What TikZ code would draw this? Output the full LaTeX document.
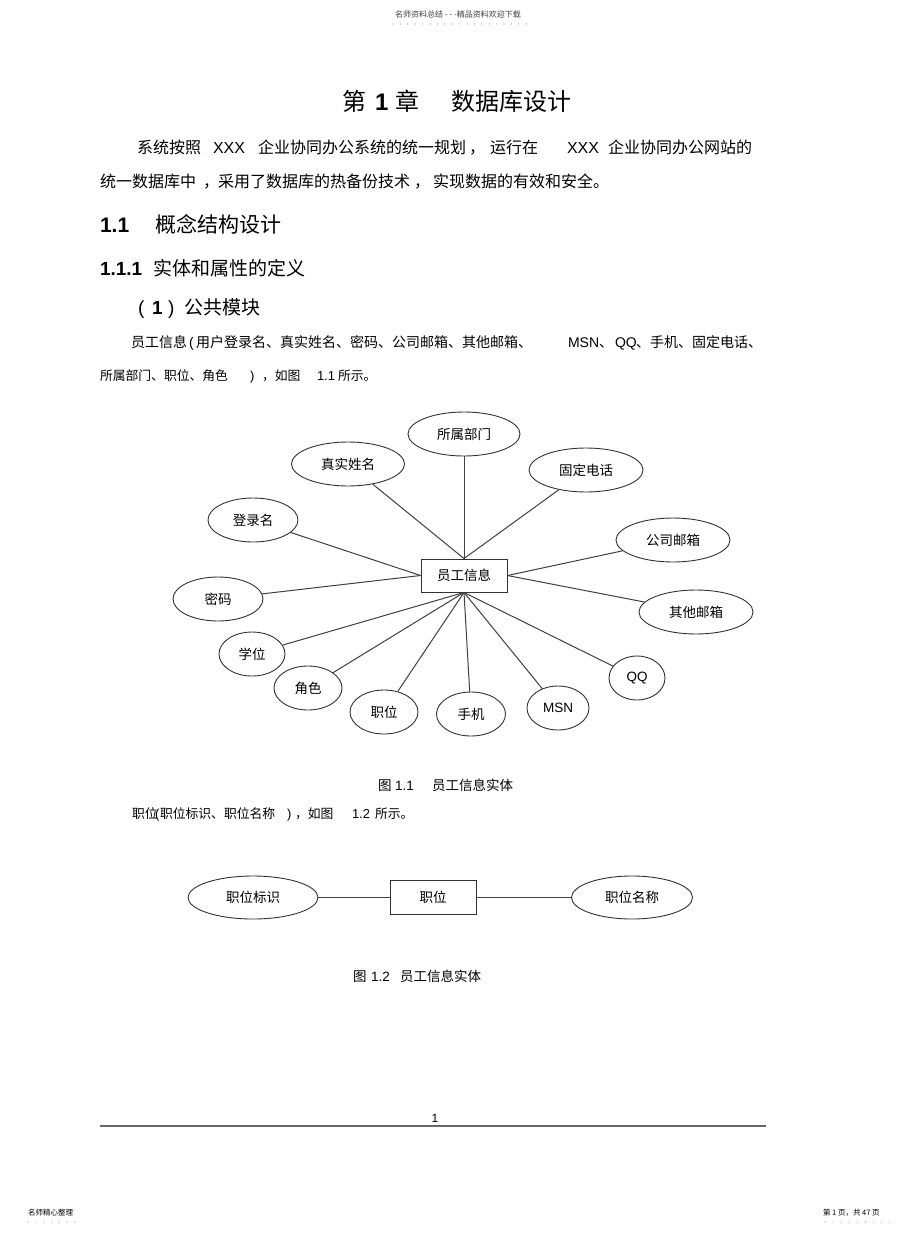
\documentclass[tikz,border=0pt]{standalone}
\usepackage{fontspec}
\setmainfont{Noto Sans CJK SC}
\newfontfamily\lat{Liberation Sans}
\usetikzlibrary{shapes.geometric}
\newcommand{\fsz}[1]{\fontsize{#1}{#1}\selectfont}
\begin{document}
\begin{tikzpicture}[x=1pt,y=-1pt,
  txt/.style={anchor=base west,inner sep=0pt,outer sep=0pt},
  ctxt/.style={anchor=base,inner sep=0pt,outer sep=0pt},
  attr/.style={ellipse,draw=black!80,line width=0.9pt,inner sep=0pt,minimum height=44pt,font=\fsz{13.5}},
  ent/.style={rectangle,draw=black!80,line width=0.9pt,inner sep=0pt,minimum width=86pt,minimum height=33pt,font=\fsz{13.5}},
  link/.style={draw=black!75,line width=1pt},
  dotc/.style={fill=black!45}]
\useasboundingbox[fill=white] (0,0) rectangle (920,1234);

% header
\node[ctxt,font=\fsz{8},text=black!75] (hdr) at (458,17) {名师资料总结 - - -精品资料欢迎下载};
\foreach \i in {0,...,18} \fill[dotc] (393+\i*7.4,24) circle (0.6);

% title
\node[txt,font=\fsz{24}] (t1) at (342,110) {第};
\node[txt,font=\fsz{24}\lat\bfseries] (t2) at (375,110) {1};
\node[txt,font=\fsz{24}] (t3) at (395,110) {章};
\node[txt,font=\fsz{24}] (t4) at (451,110) {数据库设计};

% paragraph 1
\begin{scope}[every node/.style={txt,font=\fsz{16}}]
\node (p1a) at (137,153) {系统按照};
\node[font=\fsz{16}\lat] (p1b) at (213,153) {XXX};
\node (p1c) at (258,153) {企业协同办公系统的统一规划};
\node (p1d) at (469,153) {，};
\node (p1e) at (490,153) {运行在};
\node[font=\fsz{16}\lat] (p1f) at (567,153) {XXX};
\node (p1g) at (608,153) {企业协同办公网站的};
\node (p2a) at (100,187) {统一数据库中};
\node (p2b) at (203,187) {，};
\node (p2c) at (218,187) {采用了数据库的热备份技术};
\node (p2d) at (414,187) {，};
\node (p2e) at (433,187) {实现数据的有效和安全。};
\end{scope}

% headings
\node[txt,font=\fsz{21}\lat\bfseries] (h1a) at (100,232) {1.1};
\node[txt,font=\fsz{21}] (h1b) at (155,232) {概念结构设计};
\node[txt,font=\fsz{19}\lat\bfseries] (h2a) at (100,275) {1.1.1};
\node[txt,font=\fsz{19}] (h2b) at (153,275) {实体和属性的定义};
\node[txt,font=\fsz{19}\lat] (h3a) at (138,314) {(};
\node[txt,font=\fsz{19}\lat\bfseries] (h3b) at (152,314) {1};
\node[txt,font=\fsz{19}\lat] (h3c) at (168,314) {)};
\node[txt,font=\fsz{19}] (h3d) at (184,314) {公共模块};

% paragraph 2
\begin{scope}[every node/.style={txt,font=\fsz{14}}]
\node (q1a) at (131,347) {员工信息};
\node[font=\fsz{14}\lat] (q1b) at (189,347) {(};
\node (q1c) at (196,347) {用户登录名、真实姓名、密码、公司邮箱、其他邮箱、};
\node[font=\fsz{14}\lat] (q1d) at (568,347) {MSN};
\node (q1e) at (599,347) {、};
\node[font=\fsz{14}\lat] (q1f) at (615,347) {QQ};
\node (q1g) at (636,347) {、手机、固定电话、};
\end{scope}
\begin{scope}[every node/.style={txt,font=\fsz{12.8}}]
\node (q2a) at (100,380) {所属部门、职位、角色};
\node[font=\fsz{13}\lat] (q2b) at (250,380) {)};
\node (q2c) at (262,380) {，如图};
\node[font=\fsz{13}\lat] (q2d) at (317,380) {1.1};
\node (q2e) at (338,380) {所示。};
\end{scope}

% figure 1.1
\node[ent] (emp) at (464,575.5) {员工信息};
\node[attr,minimum width=112pt] (dept) at (464,434) {所属部门};
\node[attr,minimum width=113pt] (rname) at (348,464) {真实姓名};
\node[attr,minimum width=114pt] (tel) at (586,470) {固定电话};
\node[attr,minimum width=90pt] (login) at (253,520) {登录名};
\node[attr,minimum width=114pt] (cmail) at (673,540) {公司邮箱};
\node[attr,minimum width=90pt] (pwd) at (218,599) {密码};
\node[attr,minimum width=114pt] (omail) at (696,612) {其他邮箱};
\node[attr,minimum width=66pt] (degree) at (252,654) {学位};
\node[attr,minimum width=68pt] (role) at (308,688) {角色};
\node[attr,minimum width=68pt] (pos) at (384,712) {职位};
\node[attr,minimum width=69pt] (mobile) at (471,714) {手机};
\node[attr,minimum width=62pt,font=\fsz{13.5}\lat] (msn) at (558,708) {MSN};
\node[attr,minimum width=56pt,font=\fsz{13.5}\lat] (qq) at (637,678) {QQ};

\draw[link] (dept) -- (emp.north);
\draw[link] (rname) -- (emp.north);
\draw[link] (tel) -- (emp.north);
\draw[link] (login) -- (emp.west);
\draw[link] (pwd) -- (emp.west);
\draw[link] (cmail) -- (emp.east);
\draw[link] (omail) -- (emp.east);
\foreach \n in {degree,role,pos,mobile,msn,qq} \draw[link] (\n) -- (emp.south);

% caption 1.1
\node[txt,font=\fsz{13.5}] (c1a) at (378,790) {图};
\node[txt,font=\fsz{13.5}\lat] (c1b) at (395,790) {1.1};
\node[txt,font=\fsz{13.5}] (c1c) at (432,790) {员工信息实体};

% paragraph 3
\begin{scope}[every node/.style={txt,font=\fsz{12.8}}]
\node (r1a) at (132,818) {职位};
\node[font=\fsz{13}\lat] (r1b) at (155,818) {(};
\node (r1c) at (160,818) {职位标识、职位名称};
\node[font=\fsz{13}\lat] (r1d) at (287,818) {)};
\node (r1e) at (295,818) {，如图};
\node[font=\fsz{13}\lat] (r1f) at (352,818) {1.2};
\node (r1g) at (375,818) {所示。};
\end{scope}

% figure 1.2
\node[ent,minimum height=34pt] (pos2) at (433,897.5) {职位};
\node[attr,minimum width=130pt,minimum height=43pt] (ptid) at (253,897.5) {职位标识};
\node[attr,minimum width=121pt,minimum height=43pt] (ptname) at (632,897.5) {职位名称};
\draw[link] (ptid) -- (pos2);
\draw[link] (pos2) -- (ptname);

% caption 1.2
\node[txt,font=\fsz{13.5}] (c2a) at (353,981) {图};
\node[txt,font=\fsz{13.5}\lat] (c2b) at (371,981) {1.2};
\node[txt,font=\fsz{13.5}] (c2c) at (400,981) {员工信息实体};

% page number and rule
\node[ctxt,font=\fsz{12}\lat] (pnum) at (435,1122) {1};
\coordinate (ruleL) at (100,1126);
\coordinate (ruleR) at (766,1126);
\draw[black!60,line width=1.6pt] (ruleL) -- (ruleR);

% footer
\node[txt,font=\fsz{7.5}] (fl) at (28,1215) {名师精心整理};
\foreach \i in {0,...,6} \fill[dotc] (28+\i*7.8,1222) circle (0.55);
\node[txt,font=\fsz{7.5}] (fr) at (823,1215) {第 1 页，共 47 页};
\foreach \i in {0,...,8} \fill[dotc] (825+\i*8.1,1222) circle (0.55);
\end{tikzpicture}
\end{document}
